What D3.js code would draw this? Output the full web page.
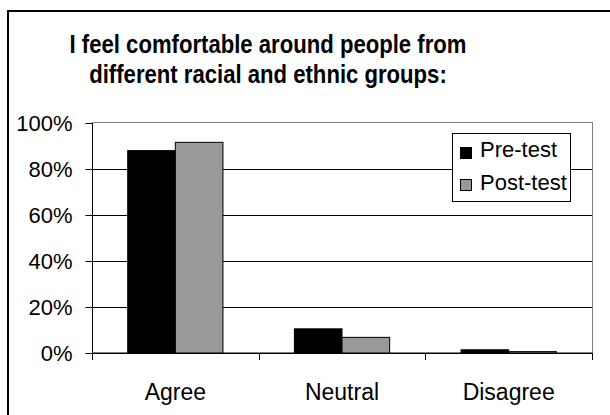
<!DOCTYPE html>
<html>
<head>
<meta charset="utf-8">
<script src="https://cdn.jsdelivr.net/npm/d3@7"></script>
<style>
  html, body { margin: 0; padding: 0; background: #fff; }
  svg { display: block; font-family: "Liberation Sans", Arial, sans-serif; }
</style>
</head>
<body>
<svg id="chart" width="610" height="415"></svg>
<script>
// Survey responses, share of respondents
const categories = ["Agree", "Neutral", "Disagree"];
const seriesNames = ["Pre-test", "Post-test"];
const preTest = [0.88, 0.105, 0.014];
const postTest = [0.916, 0.068, 0.006];
const yTicks = [0, 0.2, 0.4, 0.6, 0.8, 1.0];
const titleLines = ["I feel comfortable around people from", "different racial and ethnic groups:"];

const colors = ["#000000", "#999999"];
const svg = d3.select("#chart");

// Outer chart frame (runs past the right/bottom edges)
svg.append("rect")
  .attr("x", 8).attr("y", 11)
  .attr("width", 640).attr("height", 440)
  .attr("fill", "#fff").attr("stroke", "#000").attr("stroke-width", 2);

// Title: tall, slightly condensed bold face
svg.append("g").selectAll("text").data(titleLines).join("text")
  .attr("transform", (d, i) => `translate(268,${53 + i * 30}) scale(0.885,1)`)
  .attr("text-anchor", "middle")
  .attr("font-size", 25).attr("font-weight", "bold")
  .text(d => d);

const plot = { left: 92, right: 592, top: 123, bottom: 353 };

const x0 = d3.scaleBand().domain(categories)
  .range([plot.left, plot.right]).paddingInner(0).paddingOuter(0);
const bw = x0.bandwidth() / 3.5; // gap width 150%
const y = d3.scaleLinear().domain([0, 1]).range([plot.bottom, plot.top]);

// Plot area border
svg.append("rect")
  .attr("x", plot.left + 0.5).attr("y", plot.top - 0.5)
  .attr("width", plot.right - plot.left).attr("height", plot.bottom - plot.top)
  .attr("fill", "none").attr("stroke", "#808080").attr("stroke-width", 1);

// Gridlines
svg.append("g").selectAll("line").data(yTicks.filter(t => t > 0 && t < 1)).join("line")
  .attr("x1", plot.left).attr("x2", plot.right)
  .attr("y1", d => Math.round(y(d)) + 0.5).attr("y2", d => Math.round(y(d)) + 0.5)
  .attr("stroke", "#000").attr("stroke-width", 1);

// Bars
const series = [preTest, postTest];
series.forEach((vals, si) => {
  svg.append("g").selectAll("rect").data(vals).join("rect")
    .attr("x", (d, i) => x0(categories[i]) + bw * 0.75 + si * bw)
    .attr("y", d => y(d))
    .attr("width", bw)
    .attr("height", d => plot.bottom - y(d))
    .attr("fill", colors[si])
    .attr("stroke", "#000").attr("stroke-width", 1);
});

// Y axis
const yAxis = d3.axisLeft(y).tickValues(yTicks)
  .tickFormat(d3.format(".0%")).tickSize(7).tickPadding(13);
const gy = svg.append("g").attr("transform", `translate(${plot.left + 0.5},0)`).call(yAxis);
gy.select(".domain").remove();
gy.selectAll(".tick line").attr("stroke", "#000");
gy.selectAll(".tick text").attr("font-size", 22).attr("fill", "#000")
  .attr("font-family", "'Liberation Sans', Arial, sans-serif");
svg.append("line")
  .attr("x1", plot.left + 0.5).attr("x2", plot.left + 0.5)
  .attr("y1", plot.top).attr("y2", plot.bottom + 7)
  .attr("stroke", "#000");

// X axis with ticks at category boundaries
svg.append("line")
  .attr("x1", plot.left).attr("x2", plot.right)
  .attr("y1", plot.bottom + 0.5).attr("y2", plot.bottom + 0.5)
  .attr("stroke", "#000");
const bounds = categories.map(c => x0(c)).concat([plot.right]);
svg.append("g").selectAll("line").data(bounds).join("line")
  .attr("x1", d => Math.round(d) + 0.5).attr("x2", d => Math.round(d) + 0.5)
  .attr("y1", plot.bottom).attr("y2", plot.bottom + 7)
  .attr("stroke", "#000");
svg.append("g").selectAll("text").data(categories).join("text")
  .attr("x", d => x0(d) + x0.bandwidth() / 2)
  .attr("y", 400)
  .attr("text-anchor", "middle").attr("font-size", 23)
  .text(d => d);

// Legend
const lg = svg.append("g").attr("transform", "translate(452,133)");
lg.append("rect").attr("x", 0.5).attr("y", 0.5).attr("width", 118).attr("height", 68)
  .attr("fill", "#fff").attr("stroke", "#000");
seriesNames.forEach((name, i) => {
  lg.append("rect").attr("x", 8.5).attr("y", 14.5 + i * 32).attr("width", 11).attr("height", 11)
    .attr("fill", colors[i]).attr("stroke", "#000");
  lg.append("text").attr("x", 28).attr("y", 24 + i * 33).attr("font-size", 22).text(name);
});
</script>
</body>
</html>
